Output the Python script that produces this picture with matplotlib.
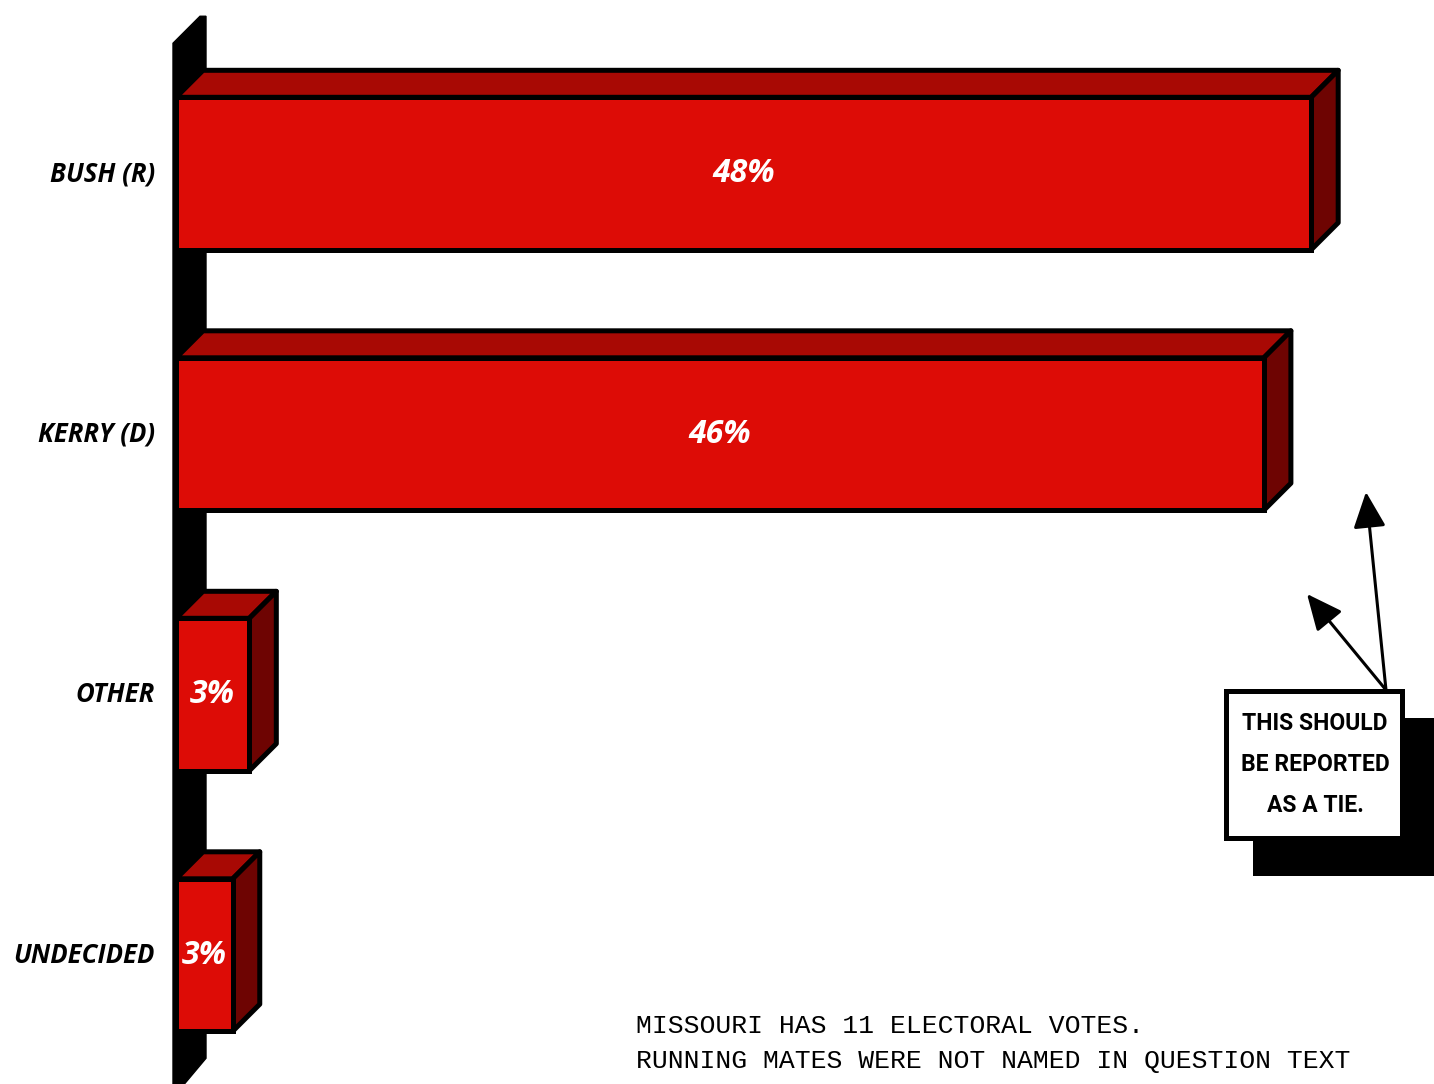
import matplotlib
matplotlib.use("Agg")
import matplotlib.pyplot as plt
from matplotlib.patches import Polygon, Rectangle

# data
categories = ["BUSH (R)", "KERRY (D)", "OTHER", "UNDECIDED"]
values = [48, 46, 3.1, 2.4]          # bar lengths as drawn
value_labels = ["48%", "46%", "3%", "3%"]
callout = ["THIS SHOULD", "BE REPORTED", "AS A TIE."]
notes = ["MISSOURI HAS 11 ELECTORAL VOTES.",
         "RUNNING MATES WERE NOT NAMED IN QUESTION TEXT"]

W, H, DPI = 1434, 1084, 100
FRONT, TOP, SIDE = "#dd0c06", "#a80904", "#6e0402"
EDGE_LW = 3.6
LABEL_FONT = ["Open Sans", "DejaVu Sans"]

# layout of the plot area in pixels
X0_PX, PX_PER_PCT = 176, 23.65
Y0_PX, PX_PER_ROW = 173.5, 260.5
DEPTH_PX = 27
BAR_H = 0.585

fig = plt.figure(figsize=(W / DPI, H / DPI), dpi=DPI)
ax = fig.add_axes([0, 0, 1, 1])
ax.set_xlim(-X0_PX / PX_PER_PCT, (W - X0_PX) / PX_PER_PCT)
ax.set_ylim((H - Y0_PX) / PX_PER_ROW, -Y0_PX / PX_PER_ROW)
ax.axis("off")

dx = DEPTH_PX / PX_PER_PCT
dy = -DEPTH_PX / PX_PER_ROW
t = 3 / PX_PER_PCT
n = len(categories)

# back wall
wall = [(-t, n - 0.5), (-t, -0.5), (dx - t, -0.5 + dy), (dx + t, -0.5 + dy),
        (dx + t, n - 0.5 + dy), (t, n - 0.5 + 0.02)]
ax.add_patch(Polygon(wall, closed=True, facecolor="black", edgecolor="black", lw=1, zorder=1))

pos = list(range(n))
for i, v in zip(pos, values):
    y0, y1 = i - BAR_H / 2, i + BAR_H / 2
    top = [(0, y0), (v, y0), (v + dx, y0 + dy), (dx, y0 + dy)]
    side = [(v, y0), (v + dx, y0 + dy), (v + dx, y1 + dy), (v, y1)]
    ax.add_patch(Polygon(top, closed=True, facecolor=TOP, edgecolor="black",
                         lw=EDGE_LW, joinstyle="round", zorder=2))
    ax.add_patch(Polygon(side, closed=True, facecolor=SIDE, edgecolor="black",
                         lw=EDGE_LW, joinstyle="round", zorder=2))

ax.barh(pos, values, height=BAR_H, color=FRONT, edgecolor="black",
        linewidth=EDGE_LW, zorder=3)

for i, (v, lab, cat) in enumerate(zip(values, value_labels, categories)):
    ax.text(v / 2, i, lab, ha="center", va="center", color="white",
            family=LABEL_FONT, weight="bold", style="italic",
            fontsize=23, zorder=4)
    ax.annotate(cat, xy=(0, i), xytext=(-21, 0), textcoords="offset pixels",
                ha="right", va="center", family=LABEL_FONT,
                weight="bold", style="italic", fontsize=18.5)


def fx(x):
    return x / W


def fy(y):
    return 1 - y / H


# call-out box with drop shadow
fig.add_artist(Rectangle((fx(1253), fy(876)), fx(1440) - fx(1253), fy(718) - fy(876),
                         transform=fig.transFigure, facecolor="black", edgecolor="none"))
fig.add_artist(Rectangle((fx(1226), fy(838)), fx(1402) - fx(1226), fy(691) - fy(838),
                         transform=fig.transFigure, facecolor="white", edgecolor="black",
                         lw=EDGE_LW))
for k, line in enumerate(callout):
    fig.text(fx(1315), fy(724 + 40.5 * k), line, ha="center", va="center",
             family=["Roboto", "DejaVu Sans"], weight="bold", fontsize=16.5)

for tip in [(1366, 492), (1307, 594)]:
    ax.annotate("", xy=(tip[0], H - tip[1]), xycoords="figure pixels",
                xytext=(1386, H - 690), textcoords="figure pixels",
                arrowprops=dict(arrowstyle="-|>,head_length=1.1,head_width=0.5",
                                mutation_scale=20, lw=2.2, color="black",
                                shrinkA=0, shrinkB=0))

for k, line in enumerate(notes):
    fig.text(fx(636), fy(1026 + 35 * k), line, ha="left", va="center",
             family=["Liberation Mono", "DejaVu Sans Mono"], fontsize=19)

fig.savefig("out.png", dpi=DPI)
